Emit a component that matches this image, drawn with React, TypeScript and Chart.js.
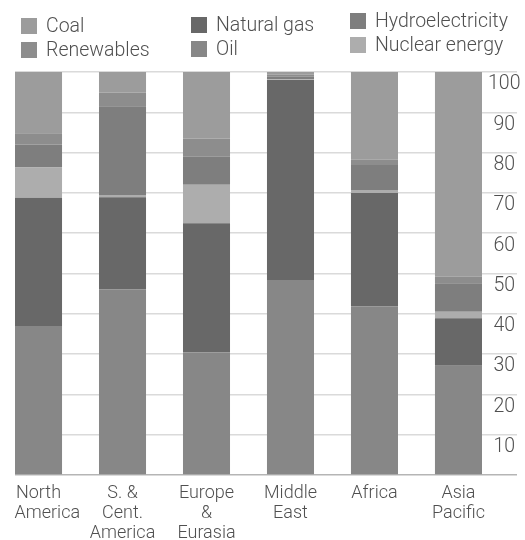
import React, { useEffect, useRef } from "react";
import { Chart, registerables } from "chart.js";

Chart.register(...registerables);

// Categories (multi-line labels)
const regions: string[][] = [
  ["North", "America"],
  ["S. &", "Cent.", "America"],
  ["Europe", "&", "Eurasia"],
  ["Middle", "East"],
  ["Africa"],
  ["Asia", "Pacific"],
];

// Share of primary energy consumption (%), stacked bottom -> top
const oil = [37.0, 46.1, 30.4, 48.4, 41.9, 27.1];
const naturalGas = [31.8, 22.8, 32.1, 49.6, 28.1, 11.8];
const nuclear = [7.5, 0.6, 9.5, 0.2, 0.7, 1.6];
const hydro = [5.7, 22.0, 7.0, 0.6, 6.2, 7.1];
const renewables = [2.8, 3.4, 4.5, 0.5, 1.3, 1.6];
const coal = [15.2, 5.1, 16.5, 0.7, 21.8, 50.8];

const yTickLabels = ["10", "20", "30", "40", "50", "60", "70", "80", "90", "100"];

const COLORS = {
  coal: "#9c9c9c",
  renewables: "#8d8d8d",
  gas: "#686868",
  oil: "#878787",
  hydro: "#7e7e7e",
  nuclear: "#adadad",
};

const FONT = "Roboto";
const TEXT = "#505050";

const legendItems = [
  { label: "Coal", color: COLORS.coal, left: 21, top: 16 },
  { label: "Renewables", color: COLORS.renewables, left: 21, top: 39.5 },
  { label: "Natural gas", color: COLORS.gas, left: 191, top: 14.5 },
  { label: "Oil", color: COLORS.oil, left: 191, top: 38.5 },
  { label: "Hydroelectricity", color: COLORS.hydro, left: 350, top: 11 },
  { label: "Nuclear energy", color: COLORS.nuclear, left: 350, top: 35 },
];

export default function App() {
  const ref = useRef<HTMLCanvasElement | null>(null);

  useEffect(() => {
    if (!ref.current) return;
    const mk = (label: string, data: number[], color: string) => ({
      label,
      data: data.map((y, i) => ({ x: i, y })),
      backgroundColor: color,
      borderWidth: 0,
      categoryPercentage: 1,
      barPercentage: 0.56,
    });
    const chart = new Chart(ref.current, {
      type: "bar",
      data: {
        datasets: [
          mk("Oil", oil, COLORS.oil),
          mk("Natural gas", naturalGas, COLORS.gas),
          mk("Nuclear energy", nuclear, COLORS.nuclear),
          mk("Hydroelectricity", hydro, COLORS.hydro),
          mk("Renewables", renewables, COLORS.renewables),
          mk("Coal", coal, COLORS.coal),
        ] as any,
      },
      options: {
        animation: false,
        responsive: true,
        maintainAspectRatio: false,
        layout: { padding: { left: 15, top: 72, right: 0, bottom: 0 } },
        plugins: { legend: { display: false }, tooltip: { enabled: false } },
        scales: {
          x: {
            type: "linear",
            min: -0.28,
            max: 5.28,
            offset: false,
            stacked: true,
            afterBuildTicks: (s: any) => {
              s.ticks = regions.map((_, i) => ({ value: i }));
            },
            afterFit: (s: any) => {
              s.height = 65;
              s.paddingLeft = 0;
              s.paddingRight = 0;
            },
            grid: { display: false, drawTicks: false, offset: false },
            border: { display: false },
            ticks: {
              autoSkip: false,
              maxRotation: 0,
              padding: 8,
              color: TEXT,
              font: { family: FONT, size: 18, weight: 300 as any, lineHeight: 1.12 },
              callback: (v: any) => {
                const lines = regions[Math.round(Number(v))] || [];
                return Number(v) === 0 ? lines.map((l, j) => (j === 1 ? "    " + l : l)) : lines;
              },
            },
          },
          y: {
            position: "right",
            min: 0,
            max: 100,
            stacked: true,
            afterFit: (s: any) => {
              s.width = 43;
              s.paddingTop = 0;
              s.paddingBottom = 0;
            },
            border: { display: false },
            grid: {
              color: (c: any) => (c.tick && c.tick.value === 0 ? "#b5b5b5" : "#dadada"),
              lineWidth: 1.5,
              drawTicks: true,
              tickLength: 35,
            },
            ticks: {
              stepSize: 10,
              crossAlign: "center",
              padding: -29,
              labelOffset: 12.5,
              color: TEXT,
              font: { family: FONT, size: 19.5, weight: 300 as any },
              callback: (v: any) => (Number(v) === 0 ? "" : yTickLabels[Number(v) / 10 - 1]),
            },
          },
        },
      } as any,
    });
    return () => chart.destroy();
  }, []);

  return (
    <div style={{ position: "fixed", left: 0, top: 0, width: 525, height: 540, background: "#fff" }}>
      <canvas ref={ref} style={{ position: "absolute", left: 0, top: 0, width: 525, height: 540 }} />
      {legendItems.map((it) => (
        <div
          key={it.label}
          style={{
            position: "absolute",
            left: it.left,
            top: it.top,
            height: 20,
            display: "flex",
            alignItems: "center",
            fontFamily: FONT,
            fontWeight: 300,
            fontSize: 19.5,
            lineHeight: "20px",
            color: TEXT,
            whiteSpace: "nowrap",
          }}
        >
          <span style={{ display: "inline-block", width: 16, height: 16, background: it.color, marginRight: 9 }} />
          <span>{it.label}</span>
        </div>
      ))}
    </div>
  );
}
